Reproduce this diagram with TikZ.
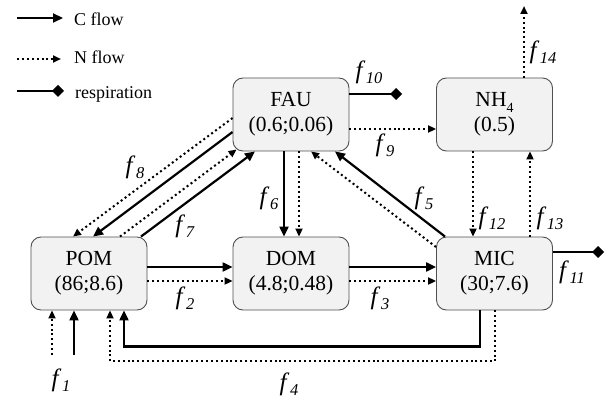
\documentclass[tikz,border=0pt]{standalone}
\usepackage{fontspec}
\setmainfont{Liberation Serif}
\usetikzlibrary{arrows.meta}
\definecolor{boxfill}{HTML}{F2F2F2}
\definecolor{boxline}{HTML}{505050}
\newcommand{\fl}[1]{\fontsize{25}{25}\selectfont\textit{f}\kern0.5pt\raisebox{-5pt}{\fontsize{16.5}{16.5}\selectfont\textit{#1}}}
\tikzset{
  pool/.style={draw=boxline, line width=0.9pt, fill=boxfill, rounded corners=10pt,
    minimum width=116pt, minimum height=73pt, inner sep=0pt, align=center,
    font=\fontsize{21.5}{25}\selectfont},
  cflow/.style={line width=2.2pt, -{Triangle[length=10pt,width=9pt]}},
  nflow/.style={line width=2pt, dash pattern=on 2pt off 2.9pt, -{Triangle[length=8pt,width=7pt]}},
  resp/.style={line width=2.2pt, -{Diamond[length=12pt,width=12pt]}},
  lab/.style={inner sep=0pt},
  legtext/.style={anchor=base west, inner sep=0pt, font=\fontsize{18}{18}\selectfont}
}
\begin{document}
\begin{tikzpicture}[x=1pt,y=-1pt]
\useasboundingbox (0,0) rectangle (605,401);
% legend
\coordinate (l1a) at (17,18); \coordinate (l1b) at (63,18);
\coordinate (l2a) at (17,59); \coordinate (l2b) at (61,59);
\coordinate (l3a) at (17,91); \coordinate (l3b) at (64,91);
\draw[cflow] (l1a) -- (l1b);
\draw[nflow] (l2a) -- (l2b);
\draw[resp] (l3a) -- (l3b);
\node[legtext] (t1) at (74,26) {C flow};
\node[legtext] (t2) at (74,64) {N flow};
\node[legtext] (t3) at (75,99) {respiration};
% pools
\node[pool] (fau) at (291,114.5) {FAU\\(0.6;0.06)};
\node[pool] (nh4) at (494.5,114.5) {NH\raisebox{-0.25em}{\fontsize{14}{14}\selectfont 4}\\(0.5)};
\node[pool] (pom) at (89,273.5) {POM\\(86;8.6)};
\node[pool] (dom) at (291,273.5) {DOM\\(4.8;0.48)};
\node[pool] (mic) at (494.5,273.5) {MIC\\(30;7.6)};
% POM -> DOM -> MIC
\draw[cflow] ([yshift=6.5pt]pom.east) -- ([yshift=6.5pt]dom.west);
\draw[nflow] ([yshift=-7.5pt]pom.east) -- ([yshift=-7.5pt]dom.west);
\draw[cflow] ([yshift=6.5pt]dom.east) -- ([yshift=6.5pt]mic.west);
\draw[nflow] ([yshift=-7.5pt]dom.east) -- ([yshift=-7.5pt]mic.west);
% FAU -> DOM
\draw[cflow] ([xshift=-7pt]fau.south) -- ([xshift=-7pt]dom.north);
\draw[nflow] ([xshift=8pt]fau.south) -- ([xshift=8pt]dom.north);
% FAU -> NH4
\draw[nflow] ([yshift=-14.5pt]fau.east) -- ([yshift=-14.5pt]nh4.west);
% respiration
\coordinate (r10) at (402,94);
\draw[resp] ([yshift=20.5pt]fau.east) -- (r10);
\coordinate (r11) at (604,252);
\draw[resp] ([yshift=21.5pt]mic.east) -- (r11);
% NH4 out
\coordinate (o14) at (524,6);
\draw[nflow] ([xshift=29.5pt]nh4.north) -- (o14);
% NH4 <-> MIC
\draw[nflow] ([xshift=-21.5pt]nh4.south) -- ([xshift=-21.5pt]mic.north);
\draw[nflow] ([xshift=35.5pt]mic.north) -- ([xshift=35.5pt]nh4.south);
% MIC -> FAU
\draw[cflow] ([xshift=-49.5pt]mic.north) -- ([xshift=44pt]fau.south);
\draw[nflow] ([yshift=26.5pt]mic.west) -- ([xshift=20pt]fau.south);
% POM -> FAU
\draw[cflow] ([xshift=52pt]pom.north) -- ([xshift=-36pt]fau.south);
\draw[nflow] ([xshift=31pt]pom.north) -- ([xshift=4pt,yshift=2pt]fau.south west);
% FAU -> POM
\draw[cflow] ([yshift=-17.5pt]fau.west) -- ([xshift=4pt]pom.north);
\draw[nflow] ([yshift=-3.5pt]fau.west) -- ([xshift=-16pt]pom.north);
% MIC -> POM
\draw[cflow] ([xshift=-14.5pt]mic.south) -- ++(0,36) -| ([xshift=35pt]pom.south);
\draw[nflow] ([xshift=0.5pt]mic.south) -- ++(0,51) -| ([xshift=21pt]pom.south);
% inputs
\coordinate (i1c) at (74,355);
\coordinate (i1n) at (52,355);
\draw[cflow] (i1c) -- ([xshift=-15pt]pom.south);
\draw[nflow] (i1n) -- ([xshift=-37pt]pom.south);
% labels
\node[lab] (lf1) at (61,380) {\fl{1}};
\node[lab] (lf2) at (185,298) {\fl{2}};
\node[lab] (lf3) at (380,298) {\fl{3}};
\node[lab] (lf4) at (289,384) {\fl{4}};
\node[lab] (lf5) at (424,198) {\fl{5}};
\node[lab] (lf6) at (269,198) {\fl{6}};
\node[lab] (lf7) at (185,226) {\fl{7}};
\node[lab] (lf8) at (135,167) {\fl{8}};
\node[lab] (lf9) at (385,145) {\fl{9}};
\node[lab] (lf10) at (369,72) {\fl{10}};
\node[lab] (lf11) at (572,272) {\fl{11}};
\node[lab] (lf12) at (492,218) {\fl{12}};
\node[lab] (lf13) at (550,218) {\fl{13}};
\node[lab] (lf14) at (543,52) {\fl{14}};
\end{tikzpicture}
\end{document}
